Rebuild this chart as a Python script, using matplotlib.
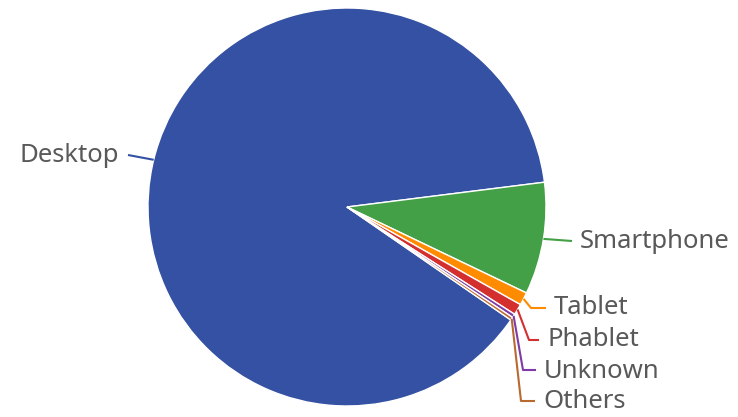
import numpy as np
import matplotlib
matplotlib.use("Agg")
import matplotlib.pyplot as plt

# share of visits by device (%)
devices = ["Desktop", "Smartphone", "Tablet", "Phablet", "Unknown", "Others"]
shares = [88.4, 9.1, 1.05, 0.9, 0.3, 0.25]
colors = ["#3451A3", "#43A047", "#FF8B00", "#D32F2F", "#7E3BA5", "#B8692F"]

# pixel layout of the reference: pie centre and radius
CX, CY, R = 347, 207, 199
W, H = 738, 417


def px(x, y):
    return (x - CX) / R, (CY - y) / R


# label text anchor (left/right edge, vertical centre) and leader elbow, in pixels
label_pos = {
    "Desktop": ((119, 155), "right", (128, 155)),
    "Smartphone": ((580, 242), "left", (569, 241)),
    "Tablet": ((554, 308), "left", (531, 308)),
    "Phablet": ((547, 340), "left", (529, 340)),
    "Unknown": ((544, 371), "left", (523, 370)),
    "Others": ((543, 402), "left", (521, 401)),
}

fig = plt.figure(figsize=(W / 100, H / 100), dpi=100)
ax = fig.add_axes([0, 0, 1, 1])

wedges, _ = ax.pie(shares, colors=colors, startangle=-34.6, counterclock=False,
                   radius=1, wedgeprops=dict(edgecolor="white", linewidth=1))

for wedge, name, color in zip(wedges, devices, colors):
    mid = np.deg2rad((wedge.theta1 + wedge.theta2) / 2)
    sx, sy = np.cos(mid), np.sin(mid)
    (tx, ty), ha, (ex, ey) = label_pos[name]
    ex, ey = px(ex, ey)
    if ha == "left":
        end = px(tx - 8, ey * -R + CY)
    else:
        end = px(tx + 9, ey * -R + CY)
    if name in ("Desktop", "Smartphone"):
        ax.plot([sx, end[0]], [sy, end[1]], color=color, lw=1.5, solid_capstyle="butt")
    else:
        ax.plot([sx, ex, end[0]], [sy, ey, end[1]], color=color, lw=1.5, solid_capstyle="butt")
    lx, ly = px(tx, ty)
    ax.text(lx, ly, name, ha=ha, va="center", fontsize=18.5, color="#595959",
            family="Noto Sans")

ax.set_xlim(-CX / R, (W - CX) / R)
ax.set_ylim((CY - H) / R, CY / R)
ax.set_aspect("equal")
ax.axis("off")

fig.savefig("out.png", dpi=100)
